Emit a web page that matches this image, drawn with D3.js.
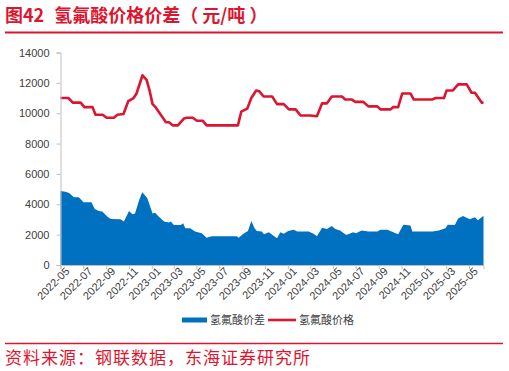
<!DOCTYPE html>
<html lang="zh">
<head>
<meta charset="UTF-8">
<script src="https://d3js.org/d3.v7.min.js"></script>
<title>氢氟酸价格价差</title>
<style>
  body { margin: 0; background: #fff; font-family: "Liberation Sans", Arial, "Noto Sans CJK SC", sans-serif; }
  .axis path, .axis line { stroke: #bfbfbf; }
  .axis text { fill: #404040; font-size: 11px; }
</style>
</head>
<body>
<svg id="chart" width="509" height="371"></svg>
<script>
// 氢氟酸价格 (元/吨)
const priceDates = ["2022-05-01","2022-05-22","2022-06-03","2022-06-24","2022-07-04","2022-07-26","2022-08-03","2022-08-22",
  "2022-09-02","2022-09-21","2022-10-01","2022-10-17","2022-10-30","2022-11-13","2022-11-21","2022-12-07","2022-12-18",
  "2022-12-26","2023-01-03","2023-01-11","2023-01-25","2023-02-08","2023-02-16","2023-02-26","2023-03-12","2023-03-28",
  "2023-04-05","2023-04-21","2023-05-02","2023-05-18","2023-05-28","2023-08-20","2023-08-29","2023-09-14","2023-09-25",
  "2023-10-08","2023-10-16","2023-10-28","2023-11-20","2023-12-03","2023-12-21","2024-01-04","2024-01-22","2024-02-04",
  "2024-03-01","2024-03-19","2024-04-02","2024-04-15","2024-04-28","2024-05-25","2024-06-03","2024-06-21","2024-06-30",
  "2024-07-21","2024-08-04","2024-08-28","2024-09-06","2024-10-02","2024-10-10","2024-10-23","2024-11-03","2024-11-25",
  "2024-12-04","2025-01-22","2025-02-01","2025-02-23","2025-03-02","2025-03-19","2025-04-02","2025-04-25","2025-05-08",
  "2025-05-17","2025-06-04","2025-06-09"];
const priceValues = [11000,11000,10700,10700,10400,10400,9900,9900,
  9700,9700,9900,9950,10800,11000,11300,12500,12200,
  11500,10600,10400,9900,9400,9400,9200,9200,9650,
  9700,9700,9500,9500,9200,9200,10100,10300,11000,
  11500,11450,11100,11100,10600,10600,10250,10250,9850,
  9850,9800,10650,10650,11100,11100,10900,10900,10750,
  10750,10450,10450,10250,10250,10400,10400,11300,11300,
  10900,10900,11000,11000,11500,11500,11900,11900,11350,
  11350,10700,10700];

// 氢氟酸价差 (元/吨)
const spreadDates = ["2022-05-01","2022-05-14","2022-05-24","2022-06-06","2022-06-19","2022-07-02","2022-07-23","2022-08-01",
  "2022-08-12","2022-08-21","2022-09-04","2022-09-13","2022-10-09","2022-10-18","2022-11-01","2022-11-10","2022-11-17",
  "2022-11-27","2022-12-06","2022-12-13","2022-12-20","2023-01-03","2023-01-10","2023-01-20","2023-02-03","2023-02-16",
  "2023-02-21","2023-03-01","2023-03-20","2023-03-26","2023-04-01","2023-04-14","2023-04-27","2023-05-15","2023-05-28",
  "2023-06-11","2023-08-17","2023-08-22","2023-09-04","2023-09-16","2023-09-25","2023-10-04","2023-10-10","2023-10-23",
  "2023-10-29","2023-11-11","2023-11-18","2023-12-03","2023-12-12","2023-12-21","2024-01-02","2024-01-17","2024-01-26",
  "2024-02-26","2024-03-10","2024-03-19","2024-04-02","2024-04-15","2024-04-28","2024-05-07","2024-05-20","2024-06-06",
  "2024-06-24","2024-07-02","2024-07-17","2024-08-04","2024-08-28","2024-09-06","2024-09-24","2024-10-10","2024-10-23",
  "2024-11-06","2024-11-25","2024-11-30","2025-01-23","2025-02-09","2025-02-27","2025-03-05","2025-03-24","2025-04-02",
  "2025-04-15","2025-05-03","2025-05-17","2025-05-25","2025-06-09"];
const spreadValues = [4880,4830,4750,4460,4460,4130,4130,3690,
  3560,3520,3180,3030,3010,2860,3560,3340,3400,
  4200,4790,4610,4400,3400,3450,3180,2860,2800,
  2860,2640,2640,2750,2420,2420,2200,2090,1800,
  1890,1890,1800,2060,2240,2900,2400,2240,2200,
  2020,2150,2020,1760,2150,2060,2240,2330,2200,
  2200,2060,1890,2460,2370,2570,2370,2280,1980,
  2150,2100,2280,2200,2200,2330,2330,2150,2020,
  2660,2600,2200,2200,2280,2420,2660,2630,3070,
  3230,3010,3140,2950,3250];

const xTickLabels = ["2022-05","2022-07","2022-09","2022-11","2023-01","2023-03","2023-05","2023-07","2023-09",
  "2023-11","2024-01","2024-03","2024-05","2024-07","2024-09","2024-11","2025-01","2025-03","2025-05"];
const yTicks = [0,2000,4000,6000,8000,10000,12000,14000];
const seriesNames = ["氢氟酸价差","氢氟酸价格"];

const RED = "#dc1530", BLUE = "#0070c0";
const parse = d3.timeParse("%Y-%m-%d");
const parseM = d3.timeParse("%Y-%m");
const price = priceDates.map((d, i) => ({date: parse(d), v: priceValues[i]}));
const spread = spreadDates.map((d, i) => ({date: parse(d), v: spreadValues[i]}));

const svg = d3.select("#chart");

// title
const title = svg.append("text").attr("x", 5).attr("y", 22)
  .attr("fill", RED).style("font-size", "18px").style("font-weight", "bold")
  .style("font-family", "'Noto Sans CJK SC', sans-serif")
  .style("white-space", "pre");
title.append("tspan").text("图42");
title.append("tspan").attr("dx", 10).text("氢氟酸价格价差（ 元/吨 ）");
svg.append("line").attr("x1", 5).attr("x2", 503).attr("y1", 32.5).attr("y2", 32.5)
  .attr("stroke", RED).attr("stroke-width", 2);

const x = d3.scaleTime()
  .domain([parse("2022-05-01"), parse("2025-06-09")])
  .range([60.5, 483.5]);
const y = d3.scaleLinear().domain([0, 14000]).range([265, 52.5]);

// spread area
svg.append("path").datum(spread)
  .attr("fill", BLUE)
  .attr("d", d3.area().x(d => x(d.date)).y0(y(0)).y1(d => y(d.v)));

// price line
svg.append("path").datum(price)
  .attr("fill", "none").attr("stroke", RED).attr("stroke-width", 2.6)
  .attr("stroke-linejoin", "round")
  .attr("d", d3.line().x(d => x(d.date)).y(d => y(d.v)));

// axes
svg.append("g").attr("class", "axis")
  .attr("transform", "translate(60.5,0)")
  .call(d3.axisLeft(y).tickValues(yTicks).tickSize(4).tickPadding(7).tickFormat(d3.format("d")));

const gx = svg.append("g").attr("class", "axis")
  .attr("transform", `translate(0,${y(0)})`)
  .call(d3.axisBottom(x).tickValues(xTickLabels.map(parseM)).tickSize(4).tickFormat(d3.timeFormat("%Y-%m")));
gx.selectAll("text")
  .attr("text-anchor", "end")
  .attr("dx", "0.15em").attr("dy", "0.4em")
  .attr("transform", "rotate(-45)");

// legend
const lg = svg.append("g").style("font-family", "'Noto Sans CJK SC', sans-serif");
lg.append("rect").attr("x", 182).attr("y", 317.5).attr("width", 25).attr("height", 5).attr("fill", BLUE);
lg.append("text").attr("x", 210).attr("y", 324).attr("fill", "#404040").style("font-size", "11px").text(seriesNames[0]);
lg.append("line").attr("x1", 268).attr("x2", 296).attr("y1", 320).attr("y2", 320)
  .attr("stroke", RED).attr("stroke-width", 2.6);
lg.append("text").attr("x", 299).attr("y", 324).attr("fill", "#404040").style("font-size", "11px").text(seriesNames[1]);

// source footer
svg.append("line").attr("x1", 5).attr("x2", 503).attr("y1", 343.5).attr("y2", 343.5)
  .attr("stroke", RED).attr("stroke-width", 1.5);
svg.append("text").attr("x", 5).attr("y", 364)
  .attr("fill", RED).style("font-size", "17px").style("letter-spacing", "1px")
  .style("font-family", "'Noto Sans CJK SC', sans-serif")
  .text("资料来源：钢联数据，东海证券研究所");
</script>
</body>
</html>
